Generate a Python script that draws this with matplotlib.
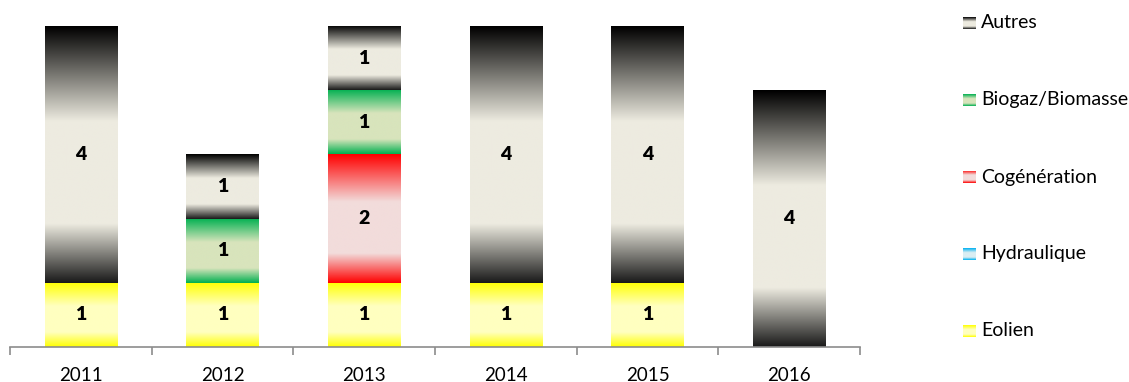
import numpy as np
import matplotlib
matplotlib.use("Agg")
import matplotlib.pyplot as plt
from matplotlib.colors import to_rgb

# ---- data ----
years = ['2011', '2012', '2013', '2014', '2015', '2016']
eolien = [1, 1, 1, 1, 1, 0]
hydraulique = [0, 0, 0, 0, 0, 0]
cogeneration = [0, 0, 2, 0, 0, 0]
biogaz = [0, 1, 1, 0, 0, 0]
autres = [4, 1, 1, 4, 4, 4]

series_names = ['Eolien', 'Hydraulique', 'Cogénération', 'Biogaz/Biomasse', 'Autres']
series_values = [eolien, hydraulique, cogeneration, biogaz, autres]
# (edge colour top, light middle, edge colour bottom)
series_grad = [
    ('#FFFF00', '#FFFFC0', '#FFFF00'),
    ('#00B0F0', '#DAEEF3', '#00B0F0'),
    ('#FF0000', '#F2DCDB', '#FF0000'),
    ('#00B050', '#D8E4BC', '#00B050'),
    ('#000000', '#EDEBE0', '#1A1A1A'),
]

plt.rcParams['font.family'] = ['Lato', 'DejaVu Sans']


def gradient(cols, n=256):
    top, mid, bot = [np.array(to_rgb(c)) for c in cols]
    stops = [0.0, 0.37, 0.77, 1.0]
    colors = [top, mid, mid, bot]
    t = np.linspace(0, 1, n)
    arr = np.zeros((n, 1, 3))
    for ch in range(3):
        arr[:, 0, ch] = np.interp(t, stops, [c[ch] for c in colors])
    return arr


W, H = 1129, 382
fig = plt.figure(figsize=(W / 100, H / 100), dpi=100)
ax = fig.add_axes([10 / W, (H - 347) / H, 850 / W, 321 / H])

x = np.arange(len(years))
bottom = np.zeros(len(years))
for name, vals, cols in zip(series_names, series_values, series_grad):
    vals = np.array(vals, dtype=float)
    bars = ax.bar(x, vals, width=0.51, bottom=bottom, facecolor='none',
                  edgecolor='none', label=name)
    img = gradient(cols)
    for rect, v in zip(bars, vals):
        if v <= 0:
            continue
        x0, y0 = rect.get_x(), rect.get_y()
        w, h = rect.get_width(), rect.get_height()
        ax.imshow(img, extent=(x0, x0 + w, y0, y0 + h), origin='upper',
                  aspect='auto', interpolation='bilinear', zorder=2)
        ax.text(x0 + w / 2, y0 + h / 2, f'{int(v)}', ha='center', va='center',
                fontsize=14, fontweight='heavy', color='black', zorder=3)
    bottom += vals

ax.set_xlim(-0.5, len(years) - 0.5)
ax.set_ylim(0, 5)
for s in ['top', 'right', 'left']:
    ax.spines[s].set_visible(False)
ax.spines['bottom'].set_color('#8C8C8C')
ax.spines['bottom'].set_linewidth(1.2)
ax.set_yticks([])
ax.set_xticks(np.arange(-0.5, len(years), 1))
ax.set_xticklabels([])
ax.tick_params(axis='x', which='major', length=6, color='#8C8C8C', width=1.2)
ax.set_xticks(x, minor=True)
ax.set_xticklabels(years, minor=True, fontsize=13.5)
ax.tick_params(axis='x', which='minor', length=0, pad=14.5)

# ---- legend (top to bottom: Autres ... Eolien) ----
legend_y = [23, 100, 177, 254, 331]
for (name, cols), yc in zip(list(zip(series_names, series_grad))[::-1], legend_y):
    sw = fig.add_axes([963 / W, (H - yc - 6) / H, 13 / W, 12 / H])
    sw.imshow(gradient(cols, 64), aspect='auto', interpolation='bilinear')
    sw.set_axis_off()
    fig.text(981 / W, (H - yc) / H, name, ha='left', va='center', fontsize=14)

fig.savefig('out.png', dpi=100)
